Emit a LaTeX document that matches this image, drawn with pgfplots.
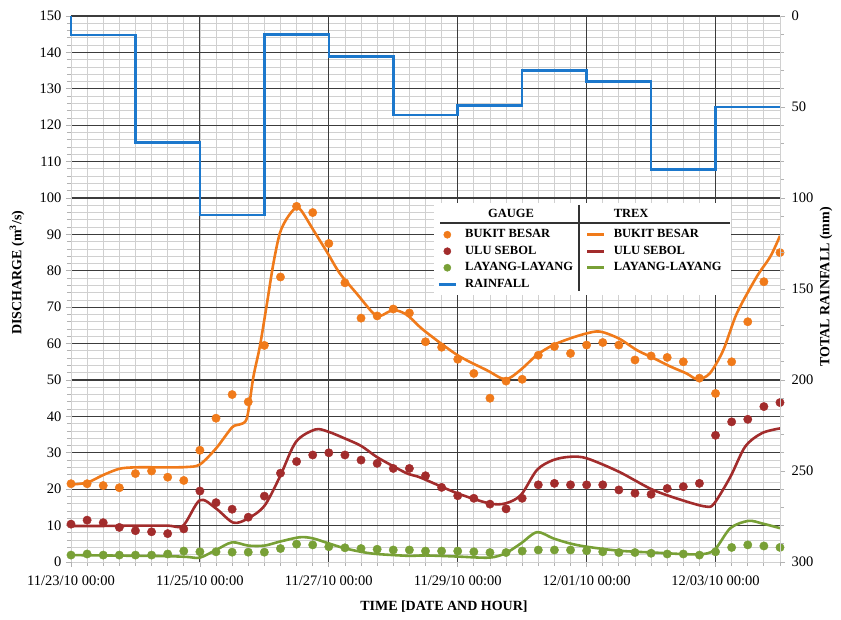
\documentclass[border=0pt]{standalone}
\usepackage{fontspec}
\setmainfont{Liberation Serif}
\usepackage{pgfplots}
\pgfplotsset{compat=1.18}
\usepackage{pgfplotstable}

\definecolor{bbOrange}{RGB}{240,122,26}
\definecolor{usRed}{RGB}{162,44,44}
\definecolor{llGreen}{RGB}{120,160,54}
\definecolor{rainBlue}{RGB}{28,120,204}
\definecolor{gridDark}{RGB}{60,60,60}
\definecolor{gridLight}{RGB}{208,208,208}

% time in days after 11/23/10 00:00, discharge in m^3/s
\pgfplotstableread{
t     q
0.00  21.5
0.25  21.5
0.50  21.0
0.75  20.4
1.00  24.3
1.25  25.0
1.50  23.3
1.75  22.4
2.00  30.7
2.25  39.5
2.50  46.0
2.75  44.0
3.00  59.5
3.25  78.3
3.50  97.7
3.75  96.0
4.00  87.5
4.25  76.7
4.50  67.0
4.75  67.6
5.00  69.5
5.25  68.4
5.50  60.5
5.75  59.0
6.00  55.7
6.25  51.8
6.50  45.0
6.75  49.7
7.00  50.2
7.25  56.8
7.50  59.2
7.75  57.3
8.00  59.6
8.25  60.3
8.50  59.6
8.75  55.5
9.00  56.6
9.25  56.2
9.50  55.0
9.75  50.5
10.00 46.3
10.25 55.0
10.50 66.0
10.75 77.0
11.00 85.0
}\gaugeBB

\pgfplotstableread{
t     q
0.00  10.4
0.25  11.5
0.50  10.8
0.75  9.5
1.00  8.6
1.25  8.3
1.50  7.8
1.75  9.1
2.00  19.5
2.25  16.3
2.50  14.5
2.75  12.3
3.00  18.1
3.25  24.4
3.50  27.6
3.75  29.4
4.00  30.0
4.25  29.4
4.50  28.0
4.75  27.1
5.00  25.7
5.25  25.7
5.50  23.7
5.75  20.5
6.00  18.2
6.25  17.5
6.50  15.9
6.75  14.6
7.00  17.5
7.25  21.2
7.50  21.6
7.75  21.2
8.00  21.2
8.25  21.2
8.50  19.8
8.75  18.9
9.00  18.6
9.25  20.2
9.50  20.7
9.75  21.6
10.00 34.8
10.25 38.5
10.50 39.2
10.75 42.7
11.00 43.8
}\gaugeUS

\pgfplotstableread{
t     q
0.00  1.9
0.25  2.2
0.50  1.9
0.75  1.9
1.00  1.9
1.25  1.9
1.50  2.2
1.75  3.0
2.00  2.8
2.25  2.8
2.50  2.7
2.75  2.7
3.00  2.7
3.25  3.7
3.50  4.9
3.75  4.7
4.00  4.2
4.25  3.9
4.50  3.7
4.75  3.5
5.00  3.3
5.25  3.3
5.50  3.0
5.75  3.0
6.00  3.0
6.25  2.8
6.50  2.6
6.75  2.6
7.00  3.0
7.25  3.3
7.50  3.3
7.75  3.3
8.00  3.1
8.25  2.8
8.50  2.6
8.75  2.6
9.00  2.4
9.25  2.2
9.50  2.2
9.75  1.9
10.00 2.8
10.25 4.0
10.50 4.7
10.75 4.4
11.00 4.0
}\gaugeLL

\pgfplotstableread{
t     q
0.00  21.3
0.25  21.8
0.50  23.9
0.75  25.6
1.00  26.0
1.50  26.0
1.80  26.1
2.00  26.8
2.25  31.2
2.50  37.0
2.62  37.8
2.73  39.6
2.83  50.9
2.93  59.2
3.04  71.0
3.14  82.0
3.24  90.3
3.35  94.4
3.48  97.2
3.57  96.6
3.76  91.2
3.97  85.2
4.17  79.3
4.43  73.8
4.69  68.3
4.80  67.6
5.00  69.2
5.21  67.9
5.47  63.7
5.99  56.9
6.45  52.7
6.74  50.2
6.97  52.7
7.23  56.9
7.48  59.6
7.74  61.4
8.00  62.8
8.21  63.3
8.50  61.4
8.78  58.2
9.04  56.0
9.30  53.7
9.55  51.8
9.72  50.2
9.91  51.8
10.12 58.2
10.33 68.3
10.64 78.4
10.85 83.9
11.00 89.6
}\trexBB

\pgfplotstableread{
t     q
0.00  9.9
0.50  9.9
1.00  10.0
1.50  10.0
1.74  10.0
2.00  17.0
2.25  14.7
2.52  10.8
2.75  12.0
3.00  15.4
3.24  23.4
3.49  33.0
3.79  36.4
3.99  35.8
4.24  34.0
4.50  31.9
4.74  28.9
4.99  26.4
5.23  24.2
5.42  23.2
5.99  18.9
6.49  16.1
6.74  16.1
6.98  18.4
7.23  25.3
7.48  28.0
7.74  28.9
8.00  28.5
8.50  24.8
9.03  19.8
9.55  16.6
9.86  15.2
9.98  16.1
10.23 23.4
10.46 31.7
10.72 35.4
11.00 36.7
}\trexUS

\pgfplotstableread{
t     q
0.00  1.9
0.50  1.8
1.00  1.7
1.50  1.6
1.80  1.4
2.00  1.2
2.25  3.3
2.50  5.4
2.75  4.5
3.00  4.5
3.24  5.6
3.55  6.8
3.75  6.5
4.00  5.1
4.24  3.8
4.50  2.8
4.74  2.2
5.23  1.7
5.50  1.8
5.99  1.5
6.49  1.2
6.74  2.4
6.98  5.1
7.23  8.2
7.48  6.5
7.74  5.1
8.00  4.2
8.50  3.1
9.03  2.6
9.72  2.1
9.98  3.3
10.23 9.3
10.51 11.3
10.72 10.6
11.00 9.3
}\trexLL

% daily total rainfall (mm), step held over each day
\pgfplotstableread{
t     r
0     0
0     10.5
1     69.5
2     109.3
3     10.2
4     22.3
5     54.3
6     49.2
7     29.9
8     36.1
9     84.2
10    50.1
11    50.1
}\rainfall

\pgfplotsset{
  commonaxis/.style={
    width=709pt, height=546pt, scale only axis,
    xmin=0, xmax=11,
    every tick label/.append style={font=\fontsize{14.5}{17}\selectfont},
    /pgf/number format/assume math mode=true,
    tick align=outside,
    major tick length=5pt, minor tick length=4pt,
    tick style={gray!60, line width=0.8pt},
    axis line style={gridLight, line width=0.8pt},
  },
}

\begin{document}
\begin{tikzpicture}
\path[use as bounding box] (-71pt,-58pt) rectangle (770pt,562pt);

% fine background grid: every 6 hours and every 2 m^3/s
\begin{axis}[
  commonaxis,
  ymin=0, ymax=150,
  xtick={0,0.25,...,11}, ytick={0,2,...,150},
  xticklabels={}, yticklabels={},
  major tick length=0pt,
  axis line style={draw=none},
  grid=major,
  major grid style={gridLight, line width=0.8pt},
]
\end{axis}

\begin{axis}[
  commonaxis,
  ymin=0, ymax=150,
  axis x line*=bottom, axis y line*=left,
  xtick={2,4,6,8,10},
  xticklabels={11/25/10 00:00, 11/27/10 00:00, 11/29/10 00:00, 12/01/10 00:00, 12/03/10 00:00},
  extra x ticks={0}, extra x tick labels={11/23/10 00:00},
  ytick={10,20,...,150},
  extra y ticks={0}, extra y tick labels={0},
  extra tick style={grid=none},
  minor xtick={0.25,0.5,...,11},
  minor ytick={2,4,...,148},
  grid=major,
  major grid style={gridDark, line width=1.1pt},
  xticklabel style={yshift=-5pt},
  yticklabel style={xshift=-1pt},
  xlabel={TIME [DATE AND HOUR]},
  xlabel style={font=\bfseries\fontsize{14}{16}\selectfont,
    at={(axis description cs:0.526,-0.0824)}, anchor=center},
  ylabel={DISCHARGE (m\textsuperscript{3}/s)},
  ylabel style={font=\bfseries\fontsize{14}{16}\selectfont,
    at={(axis description cs:-0.0762,0.53)}, anchor=center},
]
\addplot[only marks, mark=*, mark size=4.2pt, bbOrange] table[x=t,y=q] {\gaugeBB};
\addplot[only marks, mark=*, mark size=4.2pt, usRed] table[x=t,y=q] {\gaugeUS};
\addplot[only marks, mark=*, mark size=4.2pt, llGreen] table[x=t,y=q] {\gaugeLL};
\addplot[smooth, tension=0.5, line width=2.6pt, bbOrange] table[x=t,y=q] {\trexBB};
\addplot[smooth, tension=0.5, line width=2.6pt, usRed] table[x=t,y=q] {\trexUS};
\addplot[smooth, tension=0.5, line width=2.6pt, llGreen] table[x=t,y=q] {\trexLL};
\end{axis}

\begin{axis}[
  commonaxis,
  clip=false,
  ymin=0, ymax=300, y dir=reverse,
  axis x line=none, axis y line*=right,
  ytick={0,50,...,300},
  minor ytick={0,10,...,300},
  yticklabel style={xshift=3pt},
  ylabel={TOTAL RAINFALL (mm)},
  ylabel style={font=\bfseries\fontsize{14}{16}\selectfont,
    at={(axis description cs:1.065,0.504)}, anchor=center},
  legend columns=2,
  legend cell align=left,
  legend style={at={(0.511,0.657)}, anchor=north west, draw=none, fill=white,
    font=\bfseries\fontsize{12.5}{14}\selectfont,
    inner xsep=4pt, inner ysep=3pt, row sep=0pt,
    nodes={text height=9.5pt, text depth=3pt, inner ysep=2pt, inner xsep=5pt},
    /tikz/every odd column/.append style={column sep=3pt},
    /tikz/every even column/.append style={column sep=8pt}},
]
\addplot[const plot, line width=2.6pt, rainBlue, forget plot] table[x=t,y=r] {\rainfall};
\addlegendimage{empty legend}
\addlegendentry[text depth=6.5pt]{\hspace*{23pt}GAUGE}
\addlegendimage{empty legend}
\addlegendentry[text depth=6.5pt]{TREX}
\addlegendimage{only marks, mark=*, mark size=3.6pt, bbOrange}
\addlegendentry{BUKIT BESAR}
\addlegendimage{line width=2.6pt, bbOrange}
\addlegendentry{BUKIT BESAR}
\addlegendimage{only marks, mark=*, mark size=3.6pt, usRed}
\addlegendentry{ULU SEBOL}
\addlegendimage{line width=2.6pt, usRed}
\addlegendentry{ULU SEBOL}
\addlegendimage{only marks, mark=*, mark size=3.6pt, llGreen}
\addlegendentry{LAYANG-LAYANG}
\addlegendimage{line width=2.6pt, llGreen}
\addlegendentry{LAYANG-LAYANG}
\addlegendimage{line width=2.6pt, rainBlue}
\addlegendentry{RAINFALL}
\addlegendimage{empty legend}
\addlegendentry{}
\end{axis}

% rules separating the legend headings and the two legend columns
\draw[gray!40!black, line width=1.2pt] (369pt,339pt) -- (659pt,339pt);
\draw[gray!40!black, line width=1.2pt] (508pt,357pt) -- (508pt,271pt);
\end{tikzpicture}
\end{document}
